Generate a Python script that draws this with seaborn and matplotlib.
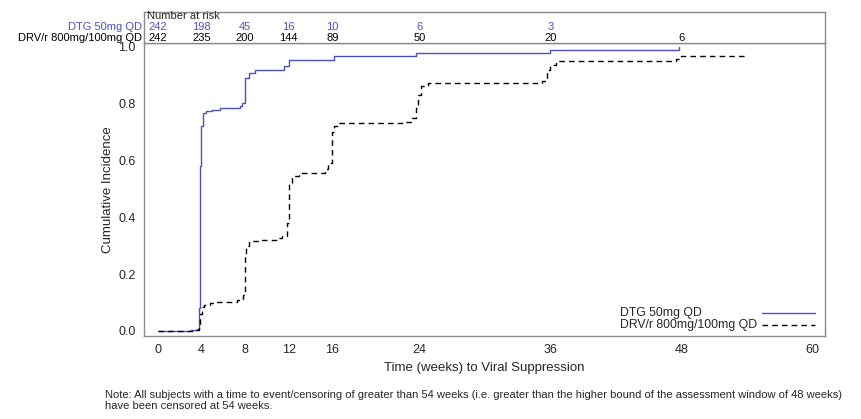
import numpy as np
import pandas as pd
import matplotlib
matplotlib.use("Agg")
import matplotlib.pyplot as plt
from matplotlib.lines import Line2D
import seaborn as sns

# ---- data ----
dtg_weeks = [0, 3.0, 3.6, 3.75, 3.85, 3.9, 3.95, 4.1, 4.4, 5.0, 5.7, 7.5, 7.7, 8.0, 8.4, 8.9, 11.6, 12.0, 16.2, 23.7, 36.0, 47.8]
dtg_inc   = [0, 0.003, 0.006, 0.08, 0.18, 0.58, 0.72, 0.765, 0.772, 0.778, 0.783, 0.790, 0.80, 0.89, 0.905, 0.918, 0.93, 0.952, 0.965, 0.977, 0.988, 0.998]

drv_weeks = [0, 3.4, 3.8, 3.9, 4.0, 4.2, 4.8, 5.2, 7.3, 7.8, 8.0, 8.1, 8.4, 9.3, 11.0, 11.4, 11.8, 12.0, 12.3, 12.9, 15.3, 15.6, 16.0, 16.2, 16.6, 22.4, 23.3, 23.7, 23.9, 24.1, 24.8, 35.2, 35.7, 36.0, 36.5, 47.5, 48.0, 54.0]
drv_inc   = [0, 0.004, 0.02, 0.06, 0.085, 0.092, 0.097, 0.101, 0.11, 0.125, 0.27, 0.30, 0.315, 0.32, 0.325, 0.335, 0.38, 0.52, 0.545, 0.555, 0.57, 0.59, 0.70, 0.72, 0.73, 0.736, 0.748, 0.783, 0.83, 0.862, 0.872, 0.88, 0.918, 0.935, 0.947, 0.955, 0.965, 0.965]

groups = ["DTG 50mg QD", "DRV/r 800mg/100mg QD"]
risk_weeks = [0, 4, 8, 12, 16, 24, 36, 48]
dtg_risk = ["242", "198", "45", "16", "10", "6", "3", ""]
drv_risk = ["242", "235", "200", "144", "89", "50", "20", "6"]
xticks = [0, 4, 8, 12, 16, 24, 36, 48, 60]
yticks = [0.0, 0.2, 0.4, 0.6, 0.8, 1.0]

# ---- style ----
sns.set_style("white")
plt.rcParams['font.family'] = ['Liberation Sans', 'DejaVu Sans']
blue = "#4f4fc4"
frame = "#8a8a8a"
palette = {groups[0]: blue, groups[1]: "black"}
dashes = {groups[0]: "", groups[1]: (4, 3)}

df = pd.concat([
    pd.DataFrame({"week": dtg_weeks, "inc": dtg_inc, "group": groups[0]}),
    pd.DataFrame({"week": drv_weeks, "inc": drv_inc, "group": groups[1]}),
])

fig = plt.figure(figsize=(8.61, 4.19), dpi=100)
ax = fig.add_axes([0.1672, 0.1981, 0.7910, 0.6993])
axr = fig.add_axes([0.1672, 0.8974, 0.7910, 0.0740])

sns.lineplot(data=df, x="week", y="inc", hue="group", style="group",
             palette=palette, dashes=dashes,
             drawstyle="steps-post", linewidth=1.0, ax=ax, legend=False)

xmin, xmax = -1.28, 61.2
ax.set_xlim(xmin, xmax)
ax.set_ylim(-0.0176, 1.012)
ax.set_xticks(xticks)
ax.set_xticklabels([str(t) for t in xticks], fontsize=9)
ax.set_yticks(yticks)
ax.set_yticklabels([f"{v:.1f}" for v in yticks], fontsize=9)
ax.tick_params(axis="both", direction="out", length=4, width=0.8, color=frame, pad=2)
ax.set_xlabel("Time (weeks) to Viral Suppression", fontsize=9.5, labelpad=4)
ax.set_ylabel("Cumulative Incidence", fontsize=9.5, labelpad=3)
for s in ax.spines.values():
    s.set_color(frame)
    s.set_linewidth(1.0)

# legend: text left-aligned, line sample to the right
for g, yy in zip(groups, [0.0785, 0.0375]):
    ax.text(0.699, yy, g, transform=ax.transAxes, fontsize=8.8, ha="left", va="center")
    ln = Line2D([0.9075, 0.985], [yy, yy], transform=ax.transAxes, color=palette[g],
                linewidth=1.0)
    if dashes[g]:
        ln.set_dashes(dashes[g])
    ax.add_line(ln)

# ---- number at risk panel ----
axr.set_xlim(xmin, xmax)
axr.set_ylim(0, 1)
axr.set_xticks([])
axr.set_yticks([])
for s in axr.spines.values():
    s.set_color(frame)
    s.set_linewidth(1.0)
axr.text(0.005, 1.02, "Number at risk", transform=axr.transAxes, fontsize=8,
         ha="left", va="top")
for w, a, b in zip(risk_weeks, dtg_risk, drv_risk):
    axr.text(w, 0.50, a, ha="center", va="center", fontsize=8, color=blue)
    axr.text(w, 0.17, b, ha="center", va="center", fontsize=8, color="black")
axr.text(-0.003, 0.50, groups[0], transform=axr.transAxes, ha="right", va="center",
         fontsize=8, color=blue)
axr.text(-0.003, 0.17, groups[1], transform=axr.transAxes, ha="right", va="center",
         fontsize=8, color="black")

fig.text(105 / 861, 1 - 395 / 419,
         "Note: All subjects with a time to event/censoring of greater than 54 weeks (i.e. greater than the higher bound of the assessment window of 48 weeks)",
         fontsize=8, ha="left", va="center")
fig.text(105 / 861, 1 - 406 / 419, "have been censored at 54 weeks.",
         fontsize=8, ha="left", va="center")

fig.savefig("out.png", dpi=100)
